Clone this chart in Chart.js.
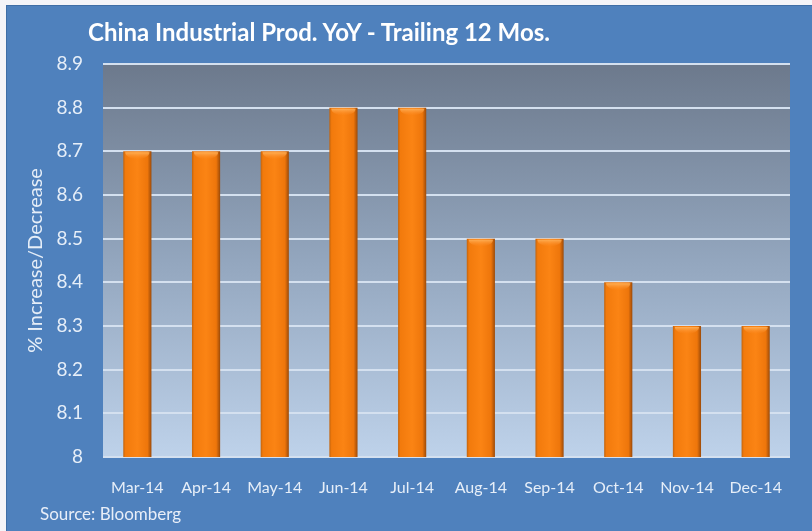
<!DOCTYPE html>
<html>
<head>
<meta charset="utf-8">
<script src="https://cdn.jsdelivr.net/npm/chart.js@4.4.1/dist/chart.umd.min.js"></script>
<style>
  html, body { margin: 0; padding: 0; background: #f4f4f8; }
  #frame { position: absolute; left: 6px; top: 5px; width: 806px; height: 526px; background: #4f81bd; border-left: 1px solid #3f6ea6; border-top: 1px solid #3f6ea6; box-sizing: border-box; }
  #wrap { position: absolute; left: 0; top: 0; width: 806px; height: 526px; }
  #title { position: absolute; left: 81px; top: 11px; color: #fff; font: bold 24px Lato, sans-serif; white-space: nowrap; }
  #source { position: absolute; left: 33px; top: 497px; color: #e8eef8; font: 17px Lato, sans-serif; white-space: nowrap; }
</style>
</head>
<body>
<div id="frame">
  <div id="wrap"><canvas id="myChart" width="806" height="526"></canvas></div>
  <div id="title">China Industrial Prod. YoY - Trailing 12 Mos.</div>
  <div id="source">Source: Bloomberg</div>
</div>
<script>
const months = ['Mar-14', 'Apr-14', 'May-14', 'Jun-14', 'Jul-14', 'Aug-14', 'Sep-14', 'Oct-14', 'Nov-14', 'Dec-14'];
const growth = [8.7, 8.7, 8.7, 8.8, 8.8, 8.5, 8.5, 8.4, 8.3, 8.3];
const yMin = 8;
const yMax = 8.9;
const yStep = 0.1;

// plot area background gradient
const plotBg = {
  id: 'plotBg',
  beforeDraw(chart) {
    const a = chart.chartArea;
    const ctx = chart.ctx;
    const g = ctx.createLinearGradient(0, a.top, 0, a.bottom);
    g.addColorStop(0, '#6c798c');
    g.addColorStop(0.5, '#93a6be');
    g.addColorStop(1, '#bed2ea');
    ctx.save();
    ctx.fillStyle = g;
    ctx.fillRect(a.left, a.top, a.right - a.left, a.bottom - a.top);
    ctx.restore();
  }
};

// cylinder look for the bars
const barShade = {
  id: 'barShade',
  beforeDatasetsDraw(chart) {
    const ctx = chart.ctx;
    chart.getDatasetMeta(0).data.forEach(bar => {
      const l = bar.x - bar.width / 2, r = bar.x + bar.width / 2;
      const g = ctx.createLinearGradient(l, 0, r, 0);
      g.addColorStop(0, '#c2640e');
      g.addColorStop(0.08, '#f27a0c');
      g.addColorStop(0.5, '#fb8414');
      g.addColorStop(0.86, '#ee760b');
      g.addColorStop(1, '#9c4a08');
      bar.options = Object.assign({}, bar.options, { backgroundColor: g });
    });
  },
  afterDatasetsDraw(chart) {
    const ctx = chart.ctx;
    chart.getDatasetMeta(0).data.forEach(bar => {
      const w = bar.width;
      const g = ctx.createLinearGradient(0, bar.y, 0, bar.y + 8);
      g.addColorStop(0, '#ffbb66');
      g.addColorStop(1, 'rgba(255,140,40,0)');
      ctx.save();
      ctx.fillStyle = g;
      ctx.beginPath();
      ctx.ellipse(bar.x, bar.y + 1, w / 2 - 2, 7, 0, 0, Math.PI);
      ctx.fill();
      ctx.restore();
    });
  }
};

new Chart(document.getElementById('myChart'), {
  type: 'bar',
  data: {
    labels: months,
    datasets: [{
      data: growth,
      backgroundColor: '#f27a0c',
      borderWidth: 0,
      barPercentage: 0.41,
      categoryPercentage: 1
    }]
  },
  options: {
    responsive: false,
    animation: false,
    layout: { padding: { top: 58, right: 23, left: 0, bottom: 0 } },
    plugins: { legend: { display: false }, tooltip: { enabled: false } },
    scales: {
      x: {
        grid: { display: false },
        border: { display: false },
        ticks: { color: '#e6eef8', font: { family: 'Lato', size: 16 }, padding: 13, maxRotation: 0 },
        afterFit(s) { s.height = 75; }
      },
      y: {
        min: yMin,
        max: yMax,
        ticks: {
          stepSize: yStep,
          color: '#e6eef8',
          font: { family: 'Lato', size: 19 },
          padding: 20,
          callback: v => String(+v.toFixed(1))
        },
        grid: { color: '#d4e0ef', lineWidth: 2, drawTicks: false },
        border: { display: false },
        title: {
          display: true,
          text: '% Increase/Decrease',
          color: '#e6eef8',
          font: { family: 'Lato', size: 20 },
          padding: { top: 17, bottom: 0 }
        },
        afterFit(s) { s.width = 96; }
      }
    }
  },
  plugins: [plotBg, barShade]
});
</script>
</body>
</html>
